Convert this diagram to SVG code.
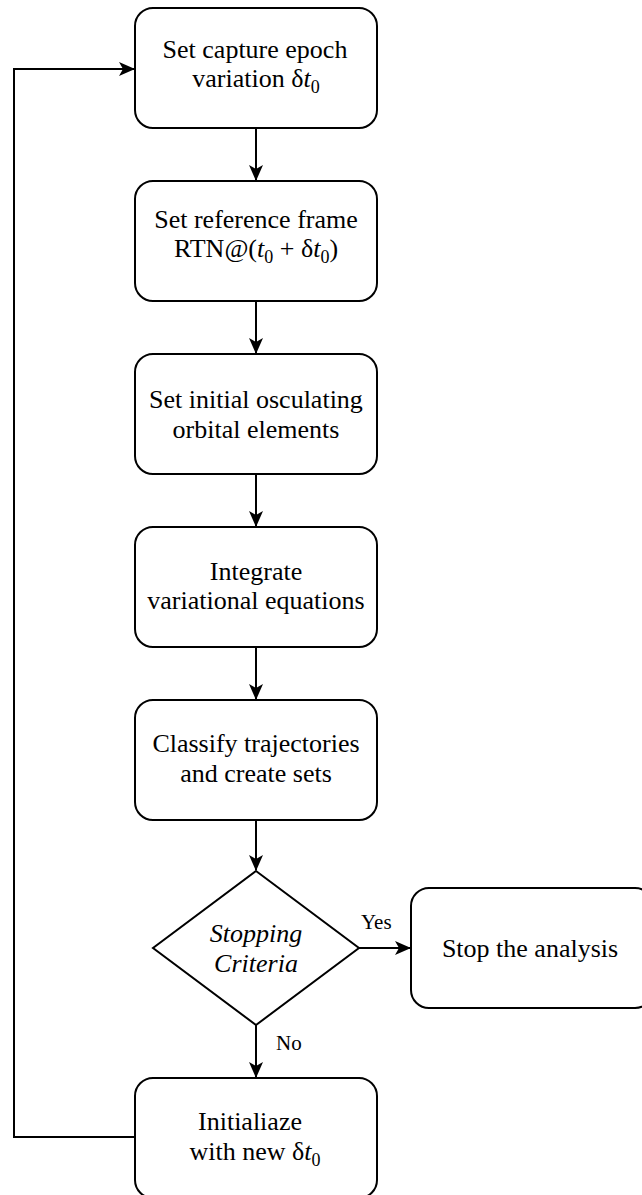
<svg xmlns="http://www.w3.org/2000/svg" width="642" height="1195" viewBox="0 0 642 1195">
  <style>
    .box { fill: #ffffff; stroke: #000000; stroke-width: 2; }
    .edge { fill: none; stroke: #000000; stroke-width: 2; }
    text { font-family: "Liberation Serif", "Times New Roman", serif; font-size: 26px; fill: #000000; }
    .c { text-anchor: middle; }
    .lbl { font-size: 21px; }
    .it { font-style: italic; }
    .sub { font-size: 18px; }
  </style>
  <defs>
    <marker id="arrow" viewBox="0 0 16 16" refX="15" refY="8" markerWidth="16" markerHeight="16" markerUnits="userSpaceOnUse" orient="auto">
      <path d="M0,1 L16,8 L0,15 L4,8 z" fill="#000000"/>
    </marker>
  </defs>
  <rect width="642" height="1195" fill="#ffffff"/>

  <!-- connectors -->
  <g id="connectors">
    <path class="edge" d="M256,128 V180" marker-end="url(#arrow)"/>
    <path class="edge" d="M256,301 V353" marker-end="url(#arrow)"/>
    <path class="edge" d="M256,474 V526" marker-end="url(#arrow)"/>
    <path class="edge" d="M256,647 V699" marker-end="url(#arrow)"/>
    <path class="edge" d="M256,820 V870" marker-end="url(#arrow)"/>
    <path class="edge" d="M359,948 H410" marker-end="url(#arrow)"/>
    <path class="edge" d="M256,1025 V1077" marker-end="url(#arrow)"/>
    <path class="edge" d="M135,1137 H14 V69 H134" marker-end="url(#arrow)"/>
    <text class="lbl" x="361" y="929">Yes</text>
    <text class="lbl" x="276" y="1050">No</text>
  </g>

  <g id="n1">
    <rect class="box" x="135" y="8" width="242" height="120" rx="18"/>
    <text class="c" x="255" y="58">Set capture epoch</text>
    <text class="c" x="256" y="87">variation δ<tspan class="it">t</tspan><tspan class="sub" dy="6">0</tspan></text>
  </g>

  <g id="n2">
    <rect class="box" x="135" y="181" width="242" height="120" rx="18"/>
    <text class="c" x="256" y="228">Set reference frame</text>
    <text class="c" x="256" y="257">RTN@(<tspan class="it">t</tspan><tspan class="sub" dy="6">0</tspan><tspan dy="-6"> + δ</tspan><tspan class="it">t</tspan><tspan class="sub" dy="6">0</tspan><tspan dy="-6">)</tspan></text>
  </g>

  <g id="n3">
    <rect class="box" x="135" y="354" width="242" height="120" rx="18"/>
    <text class="c" x="256" y="408">Set initial osculating</text>
    <text class="c" x="256" y="438">orbital elements</text>
  </g>

  <g id="n4">
    <rect class="box" x="135" y="527" width="242" height="120" rx="18"/>
    <text class="c" x="256" y="580">Integrate</text>
    <text class="c" x="256" y="609">variational equations</text>
  </g>

  <g id="n5">
    <rect class="box" x="135" y="700" width="242" height="120" rx="18"/>
    <text class="c" x="256" y="752">Classify trajectories</text>
    <text class="c" x="256" y="782">and create sets</text>
  </g>

  <g id="decision">
    <path class="box" d="M256,871 L359,948 L256,1025 L153,948 Z"/>
    <text class="c it" x="256" y="942">Stopping</text>
    <text class="c it" x="256" y="972">Criteria</text>
  </g>

  <g id="stop">
    <rect class="box" x="411" y="888" width="242" height="120" rx="18"/>
    <text class="c" x="530" y="957">Stop the analysis</text>
  </g>

  <g id="init">
    <rect class="box" x="135" y="1078" width="242" height="120" rx="18"/>
    <text class="c" x="250" y="1130">Initialiaze</text>
    <text class="c" x="255" y="1160">with new δ<tspan class="it">t</tspan><tspan class="sub" dy="6">0</tspan></text>
  </g>
</svg>
